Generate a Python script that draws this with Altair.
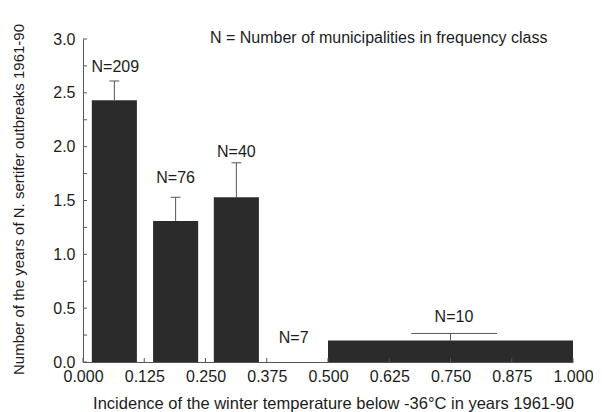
import altair as alt
import pandas as pd

# ---- data ----
labels = ["N=209", "N=76", "N=40", "N=7", "N=10"]
bar_start = [0.018, 0.143, 0.267, 0.393, 0.500]
bar_end = [0.110, 0.235, 0.359, 0.485, 1.000]
bar_center = [0.064, 0.189, 0.313, 0.439, 0.750]
values = [2.43, 1.31, 1.53, 0.0, 0.20]
err_top = [2.61, 1.53, 1.85, 0.0, 0.265]
cap_lo = [0.054, 0.179, 0.303, 0.439, 0.670]
cap_hi = [0.074, 0.199, 0.323, 0.439, 0.845]
label_x = [0.066, 0.189, 0.313, 0.430, 0.757]
label_y = [2.74, 1.71, 1.95, 0.22, 0.42]

x_ticks = [0.0, 0.125, 0.25, 0.375, 0.5, 0.625, 0.75, 0.875, 1.0]
y_ticks = [0.0, 0.25, 0.5, 0.75, 1.0, 1.25, 1.5, 1.75, 2.0, 2.25, 2.5, 2.75, 3.0]
y_labels = [0.0, 0.5, 1.0, 1.5, 2.0, 2.5, 3.0]

note = "N = Number of municipalities in frequency class"
x_title = "Incidence of the winter temperature below -36\u00b0C in years 1961-90"
y_title = "Number of the years of N. sertifer outbreaks 1961-90"

df = pd.DataFrame({
    "label": labels, "x0": bar_start, "x1": bar_end, "xc": bar_center,
    "value": values, "err": err_top, "clo": cap_lo, "chi": cap_hi,
    "lx": label_x, "ly": label_y,
})

W, H = 490, 323
FONT = "Liberation Sans"
TXT = "#1c1c1c"
AX = "#555555"

xs = alt.Scale(domain=[0, 1], nice=False, zero=False)
ys = alt.Scale(domain=[0, 3], nice=False)

base = alt.Chart(df)

bars = base.mark_rect(color="#2b2b2b").encode(
    x=alt.X("x0:Q", scale=xs, axis=alt.Axis(
        values=x_ticks, format=".3f", ticks=False, grid=False,
        domainColor=AX, labelFontSize=16, labelColor=TXT, labelFont=FONT,
        labelPadding=6, labelFlush=False,
        title=x_title, titleFont=FONT, titleFontSize=16.5, titleFontWeight="normal",
        titleColor=TXT, titleX=250, titleY=41, titleBaseline="middle")),
    x2="x1:Q",
    y=alt.Y("value:Q", scale=ys, axis=alt.Axis(
        values=y_labels, format=".1f", ticks=False, grid=False,
        domainColor=AX, labelFontSize=16, labelColor=TXT, labelFont=FONT,
        labelPadding=8,
        title=y_title, titleFont=FONT, titleFontSize=15, titleFontWeight="normal",
        titleColor=TXT, titleX=-65, titleY=160, titleBaseline="middle")),
    y2=alt.datum(0),
)

ytick_df = pd.DataFrame({"t": y_ticks})
xtick_df = pd.DataFrame({"t": x_ticks})

yt = alt.Chart(ytick_df).mark_rule(color=AX, strokeWidth=1).encode(
    y=alt.Y("t:Q", scale=ys), x=alt.value(0), x2=alt.value(4))
xt = alt.Chart(xtick_df).mark_rule(color=AX, strokeWidth=1).encode(
    x=alt.X("t:Q", scale=xs), y=alt.value(H), y2=alt.value(H - 4))

errd = base.transform_filter("datum.err > datum.value")
evert = errd.mark_rule(color="#555555", strokeWidth=1).encode(
    x=alt.X("xc:Q", scale=xs), y=alt.Y("value:Q", scale=ys), y2="err:Q")
ecap = errd.mark_rule(color="#555555", strokeWidth=1).encode(
    x=alt.X("clo:Q", scale=xs), x2="chi:Q", y=alt.Y("err:Q", scale=ys))

lbl = base.mark_text(font=FONT, fontSize=16, color=TXT, baseline="middle").encode(
    x=alt.X("lx:Q", scale=xs), y=alt.Y("ly:Q", scale=ys), text="label:N")

note_txt = alt.Chart(pd.DataFrame({"t": [note]})).mark_text(
    font=FONT, fontSize=16, color=TXT, align="left", baseline="middle"
).encode(x=alt.value(127), y=alt.value(-1), text="t:N")

chart = alt.layer(bars, yt, xt, evert, ecap, lbl, note_txt).properties(
    width=W, height=H,
    autosize=alt.AutoSizeParams(type="none"),
    padding={"left": 75, "top": 31, "right": 20, "bottom": 50},
).configure(background="white").configure_view(stroke=None).configure_axis(grid=False)

chart.save("out.html", embed_options={"renderer": "svg", "actions": False})
